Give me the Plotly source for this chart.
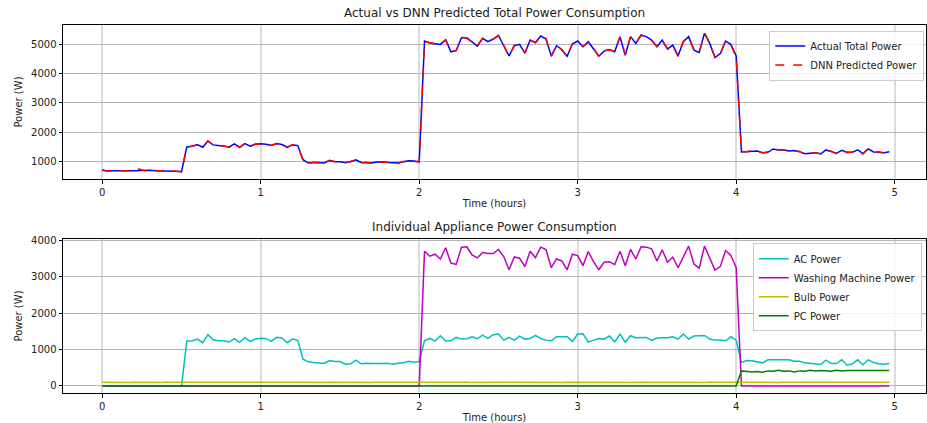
import plotly.graph_objects as go

# ---------------- data ----------------
time_hours = [i / 30 for i in range(150)]

actual_total = [
    700, 670, 680, 690, 680, 685, 680, 690, 685, 700, 685, 680, 690, 685, 670, 660,
    1494, 1517, 1575, 1483, 1690, 1563, 1540, 1529, 1483, 1598, 1483, 1609, 1517, 1586, 1598, 1586,
    1540, 1609, 1575, 1483, 1563, 1540,
    1057, 943, 966, 966, 943, 1034, 989, 989, 966, 989, 1057, 966, 966, 943, 977, 989, 966, 966,
    943, 989, 1023, 1011, 989,
    5103, 5034, 5011, 4989, 5149, 4736, 4782, 5218, 5218, 5080, 4931, 5195, 5080, 5172, 5299, 4943,
    4598, 4943, 4989, 4690, 5138, 5046, 5276, 5172, 4598, 4943, 4816, 4586, 5000, 5103, 4908, 5080,
    4851, 4586, 4759, 4816, 4736, 5253, 4621, 5253, 5023, 5310, 5253, 5138, 4908, 5138, 4828, 4966,
    4598, 5080, 5253, 4793, 4713, 5368, 5023, 4540, 4678, 5103, 4989, 4598,
    1322, 1333, 1368, 1356, 1299, 1310, 1425, 1391, 1391, 1356, 1368, 1333, 1264, 1276, 1299, 1253,
    1391, 1333, 1276, 1379, 1310, 1310, 1391, 1264, 1425, 1322, 1322, 1299, 1333,
]

dnn_predicted = [
    720, 665, 690, 700, 675, 690, 685, 740, 680, 730, 690, 680, 700, 690, 675, 640,
    1480, 1530, 1560, 1495, 1700, 1550, 1550, 1520, 1495, 1590, 1470, 1620, 1510, 1595, 1590, 1580,
    1550, 1600, 1585, 1470, 1570, 1530,
    1040, 930, 975, 955, 950, 1020, 1000, 980, 940, 1000, 1050, 950, 975, 930, 990, 970, 975, 950,
    930, 1000, 1010, 1000, 975,
    5080, 5050, 5000, 5010, 5130, 4760, 4770, 5240, 5200, 5060, 4950, 5180, 5100, 5160, 5280, 4960,
    4580, 4960, 4970, 4700, 5120, 5060, 5260, 5190, 4580, 4960, 4800, 4570, 5020, 5090, 4920, 5060,
    4870, 4570, 4780, 4800, 4750, 5230, 4640, 5240, 5040, 5290, 5270, 5120, 4920, 5120, 4840, 4950,
    4580, 5100, 5230, 4810, 4700, 5390, 5010, 4550, 4660, 5120, 4970, 4560,
    1340, 1320, 1380, 1345, 1290, 1325, 1410, 1400, 1380, 1365, 1355, 1340, 1250, 1285, 1290, 1265,
    1380, 1345, 1265, 1390, 1300, 1320, 1380, 1250, 1440, 1310, 1330, 1290, 1340,
]

ac_power = [0] * 16 + [
    1232, 1232, 1287, 1186, 1407, 1269, 1241, 1241, 1205, 1297, 1195, 1324, 1223, 1287, 1306, 1297,
    1223, 1333, 1315, 1186, 1287, 1251,
    736, 662, 644, 634, 616, 699, 671, 671, 598, 607, 708, 607, 625, 616, 607, 616, 625, 598, 625,
    634, 680, 653, 671,
    1239, 1303, 1230, 1377, 1230, 1239, 1331, 1285, 1294, 1349, 1294, 1395, 1303, 1405, 1423, 1257,
    1331, 1257, 1368, 1285, 1303, 1386, 1303, 1257, 1239, 1349, 1340, 1349, 1221,
    1423, 1432, 1202, 1257, 1303, 1285, 1368, 1211, 1423, 1202, 1377, 1322, 1331, 1331, 1248, 1313,
    1322, 1322, 1349, 1285, 1423, 1285, 1368, 1377, 1386, 1285, 1257, 1257, 1239, 1349, 1257,
    644, 699, 690, 662, 634, 717, 717, 699, 699, 717, 680, 680, 634, 616, 616, 589, 708, 616, 616,
    717, 570, 607, 717, 580, 717, 644, 607, 598, 616,
]

washing_machine_power = [0] * 61 + [
    3694, 3556, 3611, 3481, 3787, 3370, 3333, 3805, 3815, 3593, 3509, 3657, 3630, 3630, 3741, 3546,
    3185, 3537, 3500, 3269, 3694, 3519, 3805, 3741, 3241, 3481, 3426, 3185, 3611,
    3574, 3296, 3685, 3407, 3185, 3389, 3407, 3324, 3694, 3296, 3741, 3481, 3815, 3805, 3759, 3426,
    3731, 3389, 3528, 3241, 3556, 3833, 3343, 3231, 3833, 3528, 3176, 3278, 3713, 3574, 3250,
] + [0] * 29

bulb_power = [
    102, 98, 100, 97, 101, 99, 103, 98, 100, 102, 97, 99, 101, 100, 98, 103, 99, 101, 98, 100, 102, 99, 97, 101, 100, 98, 102, 100, 99, 101,
    100, 97, 102, 99, 101, 98, 100, 103, 99, 97, 101, 100, 98, 102, 99, 101, 100, 97, 103, 99, 100, 98, 101, 102, 97, 100, 99, 101, 98, 100,
    101, 99, 103, 98, 100, 97, 102, 100, 99, 101, 98, 102, 100, 97, 101, 99, 103, 100, 98, 101, 99, 100, 102, 97, 101, 98, 100, 99, 102, 100,
    98, 101, 100, 103, 97, 99, 102, 100, 98, 101, 99, 97, 102, 100, 101, 98, 103, 99, 100, 97, 101, 102, 98, 100, 99, 101, 97, 103, 100, 98,
    100, 102, 99, 97, 101, 100, 98, 103, 99, 101, 100, 97, 102, 98, 100, 101, 99, 103, 98, 100, 97, 101, 100, 99, 102, 98, 101, 100, 99, 100,
]

pc_power = [0] * 121 + [
    414, 395, 386, 395, 377, 414, 405, 432, 405, 414, 386, 414, 405, 432, 414, 423, 414, 405, 432,
    414, 423, 423, 414, 423, 405, 423, 423, 414, 423,
]

for arr in (actual_total, dnn_predicted, ac_power, washing_machine_power, bulb_power, pc_power):
    assert len(arr) == 150, len(arr)

top_ticks = [1000, 2000, 3000, 4000, 5000]
bottom_ticks = [0, 1000, 2000, 3000, 4000]
x_ticks = [0, 1, 2, 3, 4, 5]

# ---------------- figure ----------------
FONT = "DejaVu Sans"
fig = go.Figure()

fig.add_trace(go.Scatter(x=time_hours, y=actual_total, mode="lines", name="Actual Total Power",
                         line=dict(color="#0000ff", width=1.5), xaxis="x", yaxis="y", legend="legend"))
fig.add_trace(go.Scatter(x=time_hours, y=dnn_predicted, mode="lines", name="DNN Predicted Power",
                         line=dict(color="#ff0000", width=1.5, dash="dash"), xaxis="x", yaxis="y",
                         legend="legend"))

fig.add_trace(go.Scatter(x=time_hours, y=ac_power, mode="lines", name="AC Power",
                         line=dict(color="#00bfbf", width=1.5), xaxis="x2", yaxis="y2", legend="legend2"))
fig.add_trace(go.Scatter(x=time_hours, y=washing_machine_power, mode="lines", name="Washing Machine Power",
                         line=dict(color="#bf00bf", width=1.5), xaxis="x2", yaxis="y2", legend="legend2"))
fig.add_trace(go.Scatter(x=time_hours, y=bulb_power, mode="lines", name="Bulb Power",
                         line=dict(color="#bfbf00", width=1.5), xaxis="x2", yaxis="y2", legend="legend2"))
fig.add_trace(go.Scatter(x=time_hours, y=pc_power, mode="lines", name="PC Power",
                         line=dict(color="#008000", width=1.5), xaxis="x2", yaxis="y2", legend="legend2"))

axis_common = dict(showline=True, linecolor="black", linewidth=1, mirror=True, ticks="outside",
                   ticklen=3.5, tickwidth=1, tickcolor="black", zeroline=False, automargin=False,
                   tickfont=dict(family=FONT, size=10, color="#222"))
xcommon = dict(axis_common, range=[-0.248, 5.198], tickvals=x_ticks, showgrid=True,
               gridcolor="#dcdcdc", gridwidth=1.5,
               title=dict(text="Time (hours)", font=dict(family=FONT, size=10, color="#222"), standoff=3))
ycommon = dict(axis_common, showgrid=True, gridcolor="#b5b5b5", gridwidth=1,
               title=dict(text="Power (W)", font=dict(family=FONT, size=10, color="#222"), standoff=6))

legend_common = dict(bgcolor="rgba(255,255,255,0.85)", bordercolor="#cccccc", borderwidth=1,
                     font=dict(family=FONT, size=10, color="#222"), xanchor="right", yanchor="top",
                     itemwidth=30, tracegroupgap=0)

fig.update_layout(
    width=927, height=423,
    margin=dict(l=63, r=1, t=25, b=30),
    paper_bgcolor="white", plot_bgcolor="white",
    font=dict(family=FONT, size=10, color="#222"),
    xaxis=dict(xcommon, domain=[0, 1], anchor="y"),
    yaxis=dict(ycommon, domain=[0.5815, 1.0], range=[400, 5650], tickvals=top_ticks, anchor="x"),
    xaxis2=dict(xcommon, domain=[0, 1], anchor="y2"),
    yaxis2=dict(ycommon, domain=[0, 0.4185], range=[-192, 4028], tickvals=bottom_ticks, anchor="x2"),
    legend=dict(legend_common, x=0.998, y=0.985),
    legend2=dict(legend_common, x=0.995, y=0.407),
    showlegend=True,
    annotations=[
        dict(text="Actual vs DNN Predicted Total Power Consumption", xref="paper", yref="paper",
             x=0.5, y=1.0, yshift=3, xanchor="center", yanchor="bottom", showarrow=False,
             font=dict(family=FONT, size=12, color="#222")),
        dict(text="Individual Appliance Power Consumption", xref="paper", yref="paper",
             x=0.5, y=0.4185, yshift=3, xanchor="center", yanchor="bottom", showarrow=False,
             font=dict(family=FONT, size=12, color="#222")),
    ],
)

fig.write_html("out.html", config={"displayModeBar": False},
               post_script="document.body.style.margin='0';")
